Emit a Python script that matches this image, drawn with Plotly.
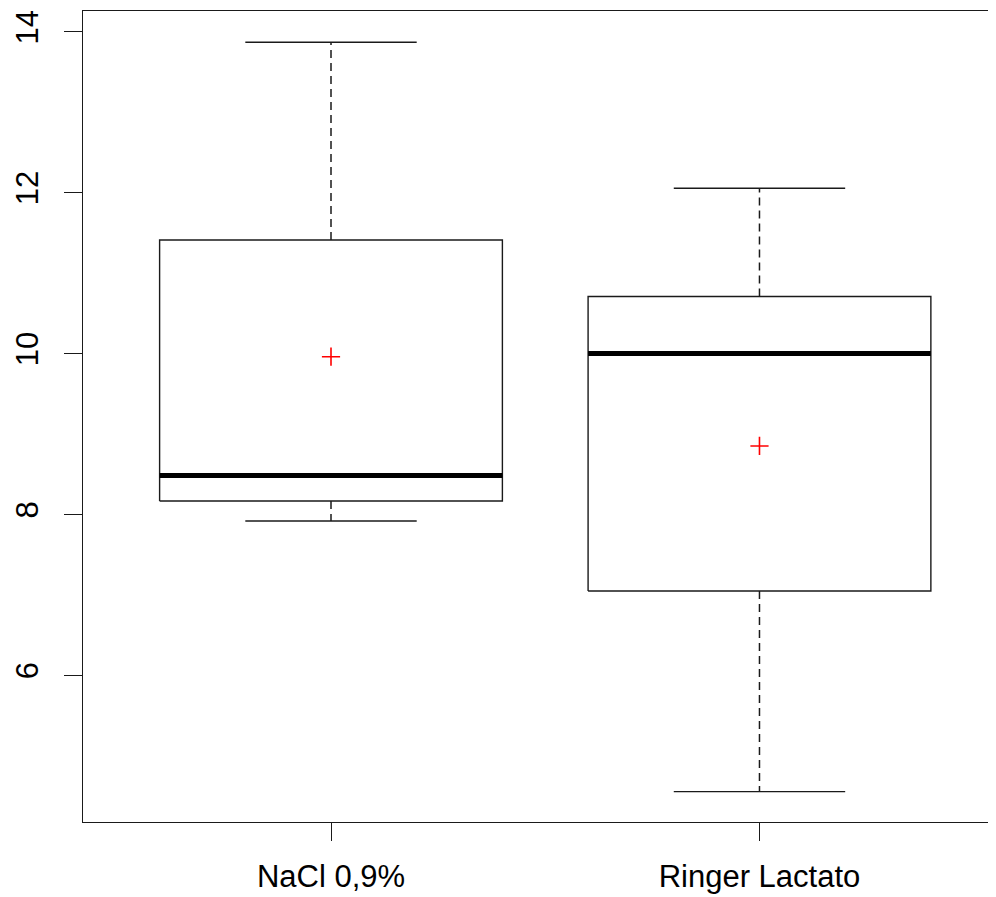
import plotly.graph_objects as go

categories = ["NaCl 0,9%", "Ringer Lactato"]
whisker_low = [7.918, 4.553]
q1 = [8.167, 7.047]
median = [8.485, 10.0]
q3 = [11.413, 10.71]
whisker_high = [13.872, 12.056]
means = [9.961, 8.851]
y_ticks = [6, 8, 10, 12, 14]

positions = [1, 2]
half_box = 0.4
half_cap = 0.2
line_col = "#1a1a1a"

fig = go.Figure()

for i, pos in enumerate(positions):
    # dashed whiskers
    fig.add_trace(go.Scatter(x=[pos, pos], y=[q3[i], whisker_high[i]], mode="lines",
                             line=dict(color=line_col, width=1.5, dash="8px,5px"),
                             showlegend=False, hoverinfo="skip"))
    fig.add_trace(go.Scatter(x=[pos, pos], y=[q1[i], whisker_low[i]], mode="lines",
                             line=dict(color=line_col, width=1.5, dash="8px,5px"),
                             showlegend=False, hoverinfo="skip"))
    # caps
    fig.add_trace(go.Scatter(x=[pos - half_cap, pos + half_cap], y=[whisker_high[i]] * 2, mode="lines",
                             line=dict(color=line_col, width=1.4), showlegend=False, hoverinfo="skip"))
    fig.add_trace(go.Scatter(x=[pos - half_cap, pos + half_cap], y=[whisker_low[i]] * 2, mode="lines",
                             line=dict(color=line_col, width=1.4), showlegend=False, hoverinfo="skip"))
    # box
    fig.add_trace(go.Scatter(x=[pos - half_box, pos + half_box, pos + half_box, pos - half_box, pos - half_box],
                             y=[q1[i], q1[i], q3[i], q3[i], q1[i]], mode="lines",
                             fill="toself", fillcolor="white",
                             line=dict(color=line_col, width=1.4), showlegend=False, hoverinfo="skip"))
    # median
    fig.add_trace(go.Scatter(x=[pos - half_box, pos + half_box], y=[median[i]] * 2, mode="lines",
                             line=dict(color="black", width=5), showlegend=False, hoverinfo="skip"))

# means
fig.add_trace(go.Scatter(x=positions, y=means, mode="markers",
                         marker=dict(symbol="cross-thin", size=13, line=dict(color="red", width=1.6)),
                         showlegend=False, hoverinfo="skip"))

fig.update_layout(
    width=988, height=889,
    margin=dict(l=75, r=0, t=3, b=75),
    plot_bgcolor="white", paper_bgcolor="white",
    font=dict(family="Liberation Sans, Arial, sans-serif", size=31, color="black"),
    xaxis=dict(range=[0.4212, 2.552], tickvals=positions, ticktext=categories,
               showgrid=False, zeroline=False, showline=True, mirror=True,
               linecolor=line_col, linewidth=1.4, ticks="outside", ticklen=18,
               tickwidth=1.4, tickcolor=line_col, ticklabelstandoff=9),
    yaxis=dict(range=[4.175, 14.26], tickvals=y_ticks, ticktext=[str(v) for v in y_ticks],
               showgrid=False, zeroline=False, showline=True, mirror=False,
               linecolor=line_col, linewidth=1.4, ticks="outside", ticklen=18,
               tickwidth=1.4, tickcolor=line_col, tickangle=-90, ticklabelstandoff=13),
)

fig.write_html("out.html")
